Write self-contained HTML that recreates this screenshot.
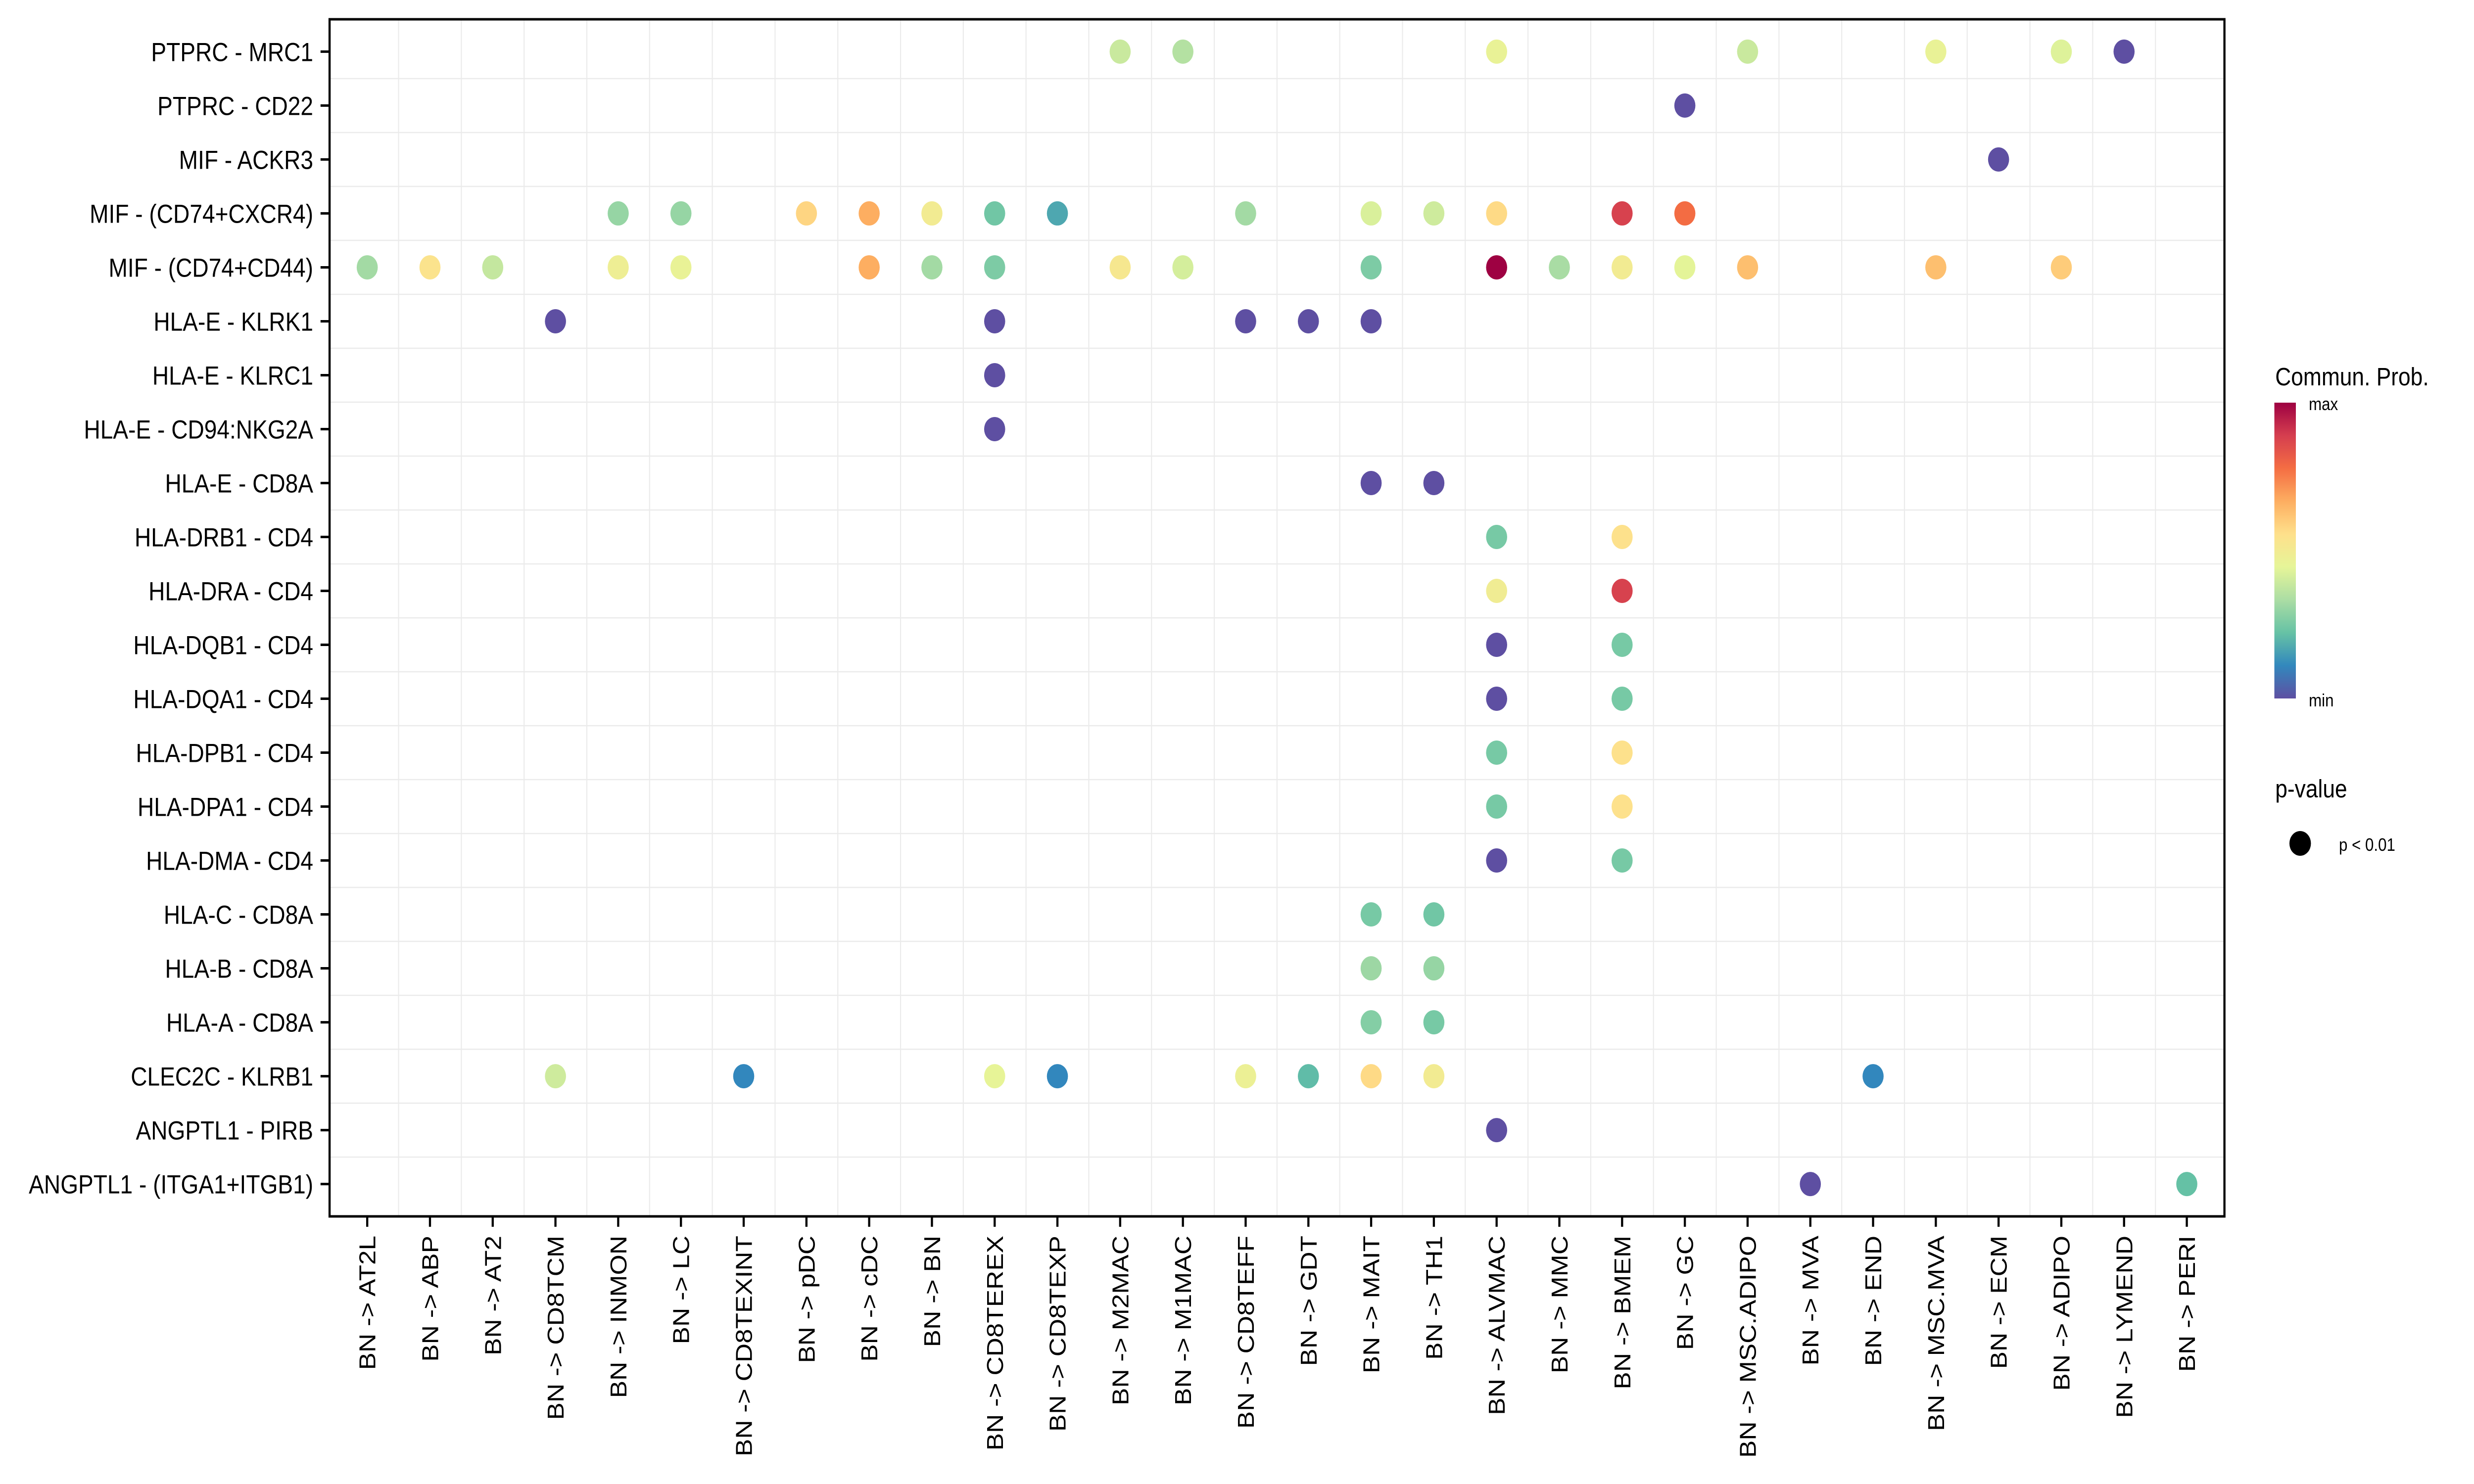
<!DOCTYPE html>
<html><head><meta charset="utf-8">
<style>
html,body{margin:0;padding:0;background:#fff;overflow:hidden;width:100%;height:100%;}
svg{display:block;font-family:"Liberation Sans",sans-serif;width:100vw;height:100vh;}
</style></head>
<body>
<svg id="chart" viewBox="0 0 5750 3000" preserveAspectRatio="none" xmlns="http://www.w3.org/2000/svg">
<defs>
<linearGradient id="spec" x1="0" y1="1" x2="0" y2="0">
<stop offset="0" stop-color="#5E4FA2"/><stop offset="0.1111" stop-color="#3288BD"/><stop offset="0.2222" stop-color="#66C2A5"/>
<stop offset="0.3333" stop-color="#ABDDA4"/><stop offset="0.4444" stop-color="#E6F598"/><stop offset="0.5556" stop-color="#FEE08B"/>
<stop offset="0.6667" stop-color="#FDAE61"/><stop offset="0.7778" stop-color="#F46D43"/>
<stop offset="0.8889" stop-color="#D53E4F"/><stop offset="1" stop-color="#9E0142"/>
</linearGradient>
</defs>
<g id="grid"></g>
<g id="points"></g>
<rect x="766" y="39" width="4404" height="2420" fill="none" stroke="#000" stroke-width="5"/>
<g id="yaxis"></g>
<g id="xaxis"></g>
<g>
<text x="5288" y="779" font-size="51">Commun. Prob.</text>
<rect x="5286" y="814" width="50" height="598" fill="url(#spec)"/>
<text x="5366" y="829" font-size="36">max</text>
<text x="5366" y="1428" font-size="36">min</text>
</g>
<g>
<text x="5288" y="1612" font-size="51">p-value</text>
<circle cx="5346" cy="1705" r="25" fill="#000"/>
<text x="5436" y="1720" font-size="36">p &lt; 0.01</text>
</g>
</svg>
<script>
const rowLabels = ["PTPRC - MRC1","PTPRC - CD22","MIF - ACKR3","MIF - (CD74+CXCR4)","MIF - (CD74+CD44)","HLA-E - KLRK1","HLA-E - KLRC1","HLA-E - CD94:NKG2A","HLA-E - CD8A","HLA-DRB1 - CD4","HLA-DRA - CD4","HLA-DQB1 - CD4","HLA-DQA1 - CD4","HLA-DPB1 - CD4","HLA-DPA1 - CD4","HLA-DMA - CD4","HLA-C - CD8A","HLA-B - CD8A","HLA-A - CD8A","CLEC2C - KLRB1","ANGPTL1 - PIRB","ANGPTL1 - (ITGA1+ITGB1)"];
const colLabels = ["AT2L","ABP","AT2","CD8TCM","INMON","LC","CD8TEXINT","pDC","cDC","BN","CD8TEREX","CD8TEXP","M2MAC","M1MAC","CD8TEFF","GDT","MAIT","TH1","ALVMAC","MMC","BMEM","GC","MSC.ADIPO","MVA","END","MSC.MVA","ECM","ADIPO","LYMEND","PERI"];
const pointRows = [0,0,0,0,0,0,0, 1, 2,
 3,3,3,3,3,3,3,3,3,3,3,3,3,
 4,4,4,4,4,4,4,4,4,4,4,4,4,4,4,4,4,4,
 5,5,5,5,5, 6, 7, 8,8, 9,9, 10,10, 11,11, 12,12, 13,13, 14,14, 15,15, 16,16, 17,17, 18,18,
 19,19,19,19,19,19,19,19,19, 20, 21,21];
const pointCols = ["M2MAC","M1MAC","ALVMAC","MSC.ADIPO","MSC.MVA","ADIPO","LYMEND","GC","ECM",
 "INMON","LC","pDC","cDC","BN","CD8TEREX","CD8TEXP","CD8TEFF","MAIT","TH1","ALVMAC","BMEM","GC",
 "AT2L","ABP","AT2","INMON","LC","cDC","BN","CD8TEREX","M2MAC","M1MAC","MAIT","ALVMAC","MMC","BMEM","GC","MSC.ADIPO","MSC.MVA","ADIPO",
 "CD8TCM","CD8TEREX","CD8TEFF","GDT","MAIT","CD8TEREX","CD8TEREX","MAIT","TH1",
 "ALVMAC","BMEM","ALVMAC","BMEM","ALVMAC","BMEM","ALVMAC","BMEM","ALVMAC","BMEM","ALVMAC","BMEM","ALVMAC","BMEM",
 "MAIT","TH1","MAIT","TH1","MAIT","TH1",
 "CD8TCM","CD8TEXINT","CD8TEREX","CD8TEXP","CD8TEFF","GDT","MAIT","TH1","END","ALVMAC","MVA","PERI"];
const pointValues = [0.39,0.35,0.46,0.39,0.46,0.43,0.0, 0.0, 0.0,
 0.3,0.3,0.58,0.667,0.5,0.24,0.17,0.32,0.42,0.4,0.57,0.88,0.78,
 0.32,0.54,0.38,0.48,0.46,0.667,0.32,0.26,0.52,0.41,0.26,1.0,0.33,0.5,0.44,0.63,0.63,0.6,
 0,0,0,0,0, 0, 0, 0,0,
 0.25,0.55, 0.49,0.88, 0,0.25, 0,0.25, 0.25,0.55, 0.25,0.55, 0,0.25,
 0.25,0.24, 0.31,0.3, 0.27,0.25,
 0.4,0.11,0.45,0.11,0.47,0.21,0.57,0.5,0.11, 0, 0,0.22];

const NS="http://www.w3.org/2000/svg";
const L=766,T=39,W=4404,H=2420;
const colStep=W/(colLabels.length-1+1.2), rowStep=H/(rowLabels.length-1+1.2);
function xScale(i){return L+(0.6+i)*colStep;}
function yScale(i){return T+(0.6+i)*rowStep;}
const stops=["#5E4FA2","#3288BD","#66C2A5","#ABDDA4","#E6F598","#FEE08B","#FDAE61","#F46D43","#D53E4F","#9E0142"];
function hex(c){return [1,3,5].map(k=>parseInt(c.substr(k,2),16));}
function colorScale(v){v=Math.max(0,Math.min(1,v));const n=stops.length-1;const p=v*n,i=Math.min(n-1,Math.floor(p)),f=p-i;const a=hex(stops[i]),b=hex(stops[i+1]);return "rgb("+a.map((x,k)=>Math.round(x+(b[k]-x)*f)).join(",")+")";}
function mk(tag,attrs,parent){const e=document.createElementNS(NS,tag);for(const k in attrs)e.setAttribute(k,attrs[k]);parent.appendChild(e);return e;}

const grid=document.getElementById('grid');
for(let i=0;i<colLabels.length-1;i++){
  const ln=mk('line',{x1:xScale(i+0.5),x2:xScale(i+0.5),y1:T,y2:T+H,stroke:"#ebebeb","stroke-width":2.5},grid);
  
  
}
for(let i=0;i<rowLabels.length-1;i++){
  const ln=mk('line',{x1:L,x2:L+W,y1:yScale(i+0.5),y2:yScale(i+0.5),stroke:"#ebebeb","stroke-width":2.5},grid);
  
  
}
const ya=document.getElementById('yaxis');
rowLabels.forEach((lab,i)=>{
  const y=yScale(i);
  const tk=mk('line',{x1:L-21,x2:L,y1:y,y2:y,stroke:"#000","stroke-width":5},ya);
  
  
  const t=mk('text',{x:728,y:y+19,"text-anchor":"end","font-size":53},ya);
  t.textContent=lab;
  
  
});
const xa=document.getElementById('xaxis');
colLabels.forEach((lab,i)=>{
  const x=xScale(i);
  const tk=mk('line',{x1:x,x2:x,y1:T+H,y2:T+H+21,stroke:"#000","stroke-width":5},xa);
  
  
  const t=mk('text',{x:0,y:0,"text-anchor":"end","font-size":53,transform:"translate("+(x+19)+",2498) rotate(-90)"},xa);
  t.textContent="BN -> "+lab;
  
  
});
const pts=document.getElementById('points');
pointValues.forEach((v,k)=>{
  const ci=colLabels.indexOf(pointCols[k]);
  const c=mk('circle',{cx:xScale(ci),cy:yScale(pointRows[k]),r:24.5,fill:colorScale(v)},pts);
  
  
});
</script>
</body></html>
